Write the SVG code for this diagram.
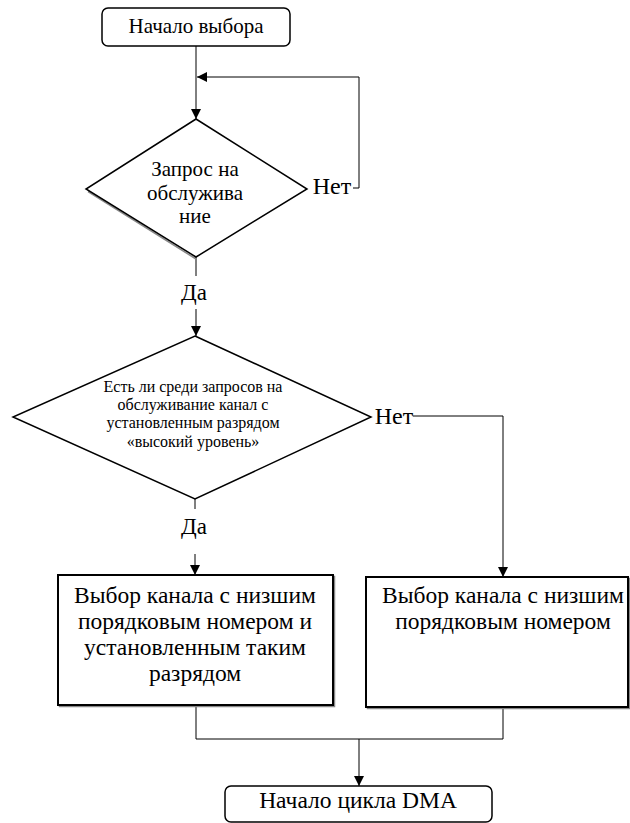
<svg xmlns="http://www.w3.org/2000/svg" width="630" height="823" viewBox="0 0 630 823">
<defs>
<style>
.shape{fill:#fff;stroke:#000;stroke-width:1.5}
.box{fill:#fff;stroke:#000;stroke-width:2}
.shadow{fill:none;stroke:#888;stroke-width:1.5}
.conn{fill:none;stroke:#000;stroke-width:1}
</style>
<marker id="arr" markerWidth="10" markerHeight="10" refX="10" refY="5" orient="auto" markerUnits="userSpaceOnUse">
<path d="M0,0 L10,5 L0,10 Z" fill="#000"/>
</marker>
</defs>
<rect width="630" height="823" fill="#fff"/>
<g id="connectors">
<path class="conn" d="M353,188 H359 V77 H197" marker-end="url(#arr)"/>
<path class="conn" d="M196,46 V119" marker-end="url(#arr)"/>
<path class="conn" d="M196,257 V276"/>
<path class="conn" d="M196,309 V336" marker-end="url(#arr)"/>
<path class="conn" d="M195,499 V509"/>
<path class="conn" d="M195,554 V575" marker-end="url(#arr)"/>
<path class="conn" d="M413,416 H503 V577" marker-end="url(#arr)"/>
<path class="conn" d="M196,706 V739 H503 V708"/>
<path class="conn" d="M359,739 V786" marker-end="url(#arr)"/>
</g>
<g id="start">
<rect class="shape" x="102" y="8" width="188" height="38" rx="6"/>
<text x="196" y="33" font-size="21" font-family="Liberation Serif" text-anchor="middle">Начало выбора</text>
</g>
<g id="decision1">
<line class="shadow" x1="88" y1="191.5" x2="196" y2="259"/>
<polygon class="shape" points="196,119 307,189 196,257 86,189"/>
<text x="195" y="176" font-size="21" font-family="Liberation Serif" text-anchor="middle">Запрос на</text>
<text x="195" y="200" font-size="21" font-family="Liberation Serif" text-anchor="middle">обслужива</text>
<text x="195" y="223" font-size="21" font-family="Liberation Serif" text-anchor="middle">ние</text>
</g>
<text x="332" y="194" font-size="24" font-family="Liberation Serif" text-anchor="middle">Нет</text>
<text x="194" y="300" font-size="23" font-family="Liberation Serif" text-anchor="middle">Да</text>
<g id="decision2">
<polygon class="shape" points="195,336 371,417 195,499 13,417"/>
<text x="193" y="392" font-size="16" font-family="Liberation Serif" text-anchor="middle">Есть ли среди запросов на</text>
<text x="193" y="410" font-size="16" font-family="Liberation Serif" text-anchor="middle">обслуживание канал с</text>
<text x="193" y="428" font-size="16" font-family="Liberation Serif" text-anchor="middle">установленным разрядом</text>
<text x="193" y="447" font-size="16" font-family="Liberation Serif" text-anchor="middle">«высокий уровень»</text>
</g>
<text x="394" y="424" font-size="24" font-family="Liberation Serif" text-anchor="middle">Нет</text>
<text x="194" y="534" font-size="23" font-family="Liberation Serif" text-anchor="middle">Да</text>
<g id="box-left">
<rect class="shadow" x="59.5" y="576.5" width="275" height="130"/>
<rect class="box" x="58" y="575" width="275" height="130"/>
<text x="195" y="603" font-size="23.5" font-family="Liberation Serif" text-anchor="middle">Выбор канала с низшим</text>
<text x="195" y="629" font-size="23.5" font-family="Liberation Serif" text-anchor="middle">порядковым номером и</text>
<text x="195" y="655" font-size="23.5" font-family="Liberation Serif" text-anchor="middle">установленным таким</text>
<text x="195" y="681" font-size="23.5" font-family="Liberation Serif" text-anchor="middle">разрядом</text>
</g>
<g id="box-right">
<rect class="shadow" x="367.5" y="578.5" width="262" height="130"/>
<rect class="box" x="366" y="577" width="262" height="130"/>
<text x="503" y="603" font-size="23.5" font-family="Liberation Serif" text-anchor="middle">Выбор канала с низшим</text>
<text x="503" y="629" font-size="23.5" font-family="Liberation Serif" text-anchor="middle">порядковым номером</text>
</g>
<g id="end">
<rect class="shape" x="225" y="786" width="267" height="36" rx="6"/>
<text x="358" y="808" font-size="23.5" font-family="Liberation Serif" text-anchor="middle">Начало цикла DMA</text>
</g>
</svg>
